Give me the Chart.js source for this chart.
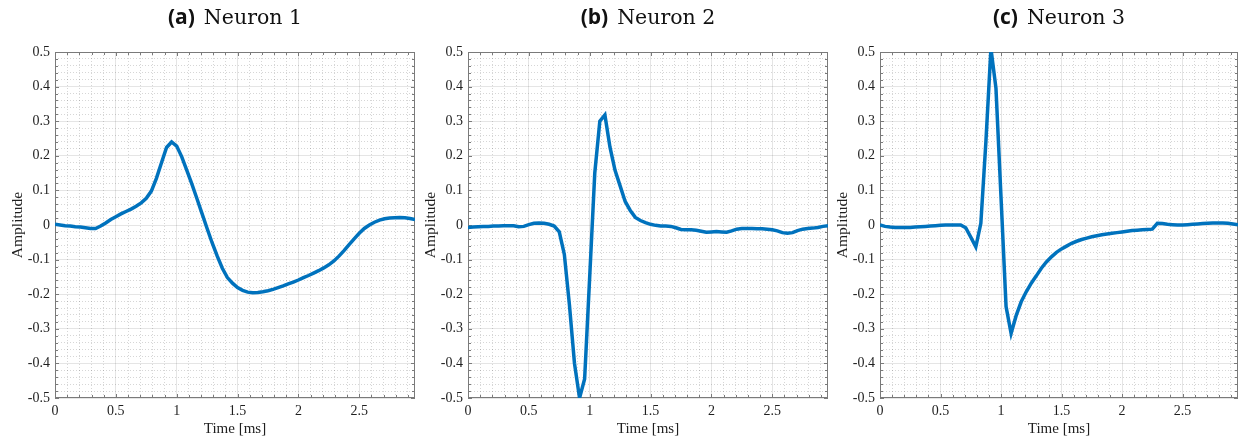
<!DOCTYPE html>
<html>
<head>
<meta charset="utf-8">
<script src="https://cdn.jsdelivr.net/npm/chart.js@4.4.1/dist/chart.umd.min.js"></script>
<style>
  html, body { margin: 0; padding: 0; background: #fff; overflow: hidden; }
  #wrap { position: relative; width: 1238px; height: 439px; }
  canvas { position: absolute; top: 0; }
</style>
</head>
<body>
<div id="wrap">
  <canvas id="c1" width="420" height="439" style="left:0px"></canvas>
  <canvas id="c2" width="420" height="439" style="left:413px"></canvas>
  <canvas id="c3" width="413" height="439" style="left:825px"></canvas>
</div>
<script>
// samples at 24 kHz, time in ms
const timeMs = [0, 0.0417, 0.0833, 0.125, 0.1667, 0.2083, 0.25, 0.2917, 0.3333, 0.375, 0.4167, 0.4583,
  0.5, 0.5417, 0.5833, 0.625, 0.6667, 0.7083, 0.75, 0.7917, 0.8333, 0.875, 0.9167, 0.9583,
  1, 1.0417, 1.0833, 1.125, 1.1667, 1.2083, 1.25, 1.2917, 1.3333, 1.375, 1.4167, 1.4583,
  1.5, 1.5417, 1.5833, 1.625, 1.6667, 1.7083, 1.75, 1.7917, 1.8333, 1.875, 1.9167, 1.9583,
  2, 2.0417, 2.0833, 2.125, 2.1667, 2.2083, 2.25, 2.2917, 2.3333, 2.375, 2.4167, 2.4583,
  2.5, 2.5417, 2.5833, 2.625, 2.6667, 2.7083, 2.75, 2.7917, 2.8333, 2.875, 2.9167, 2.9583];

const neuron1 = [0.002, 0.000, -0.002, -0.003, -0.005, -0.006, -0.008, -0.010, -0.010, -0.003, 0.006, 0.016,
  0.024, 0.032, 0.039, 0.046, 0.054, 0.064, 0.077, 0.098, 0.135, 0.180, 0.224, 0.240,
  0.228, 0.197, 0.158, 0.118, 0.076, 0.033, -0.010, -0.052, -0.090, -0.125, -0.152, -0.168,
  -0.181, -0.189, -0.194, -0.196, -0.195, -0.193, -0.190, -0.186, -0.181, -0.176, -0.170, -0.165,
  -0.159, -0.152, -0.146, -0.139, -0.132, -0.124, -0.115, -0.104, -0.090, -0.074, -0.057, -0.040,
  -0.024, -0.010, 0.000, 0.008, 0.014, 0.018, 0.020, 0.021, 0.022, 0.021, 0.019, 0.016];

const neuron2 = [-0.007, -0.006, -0.005, -0.004, -0.004, -0.003, -0.003, -0.002, -0.002, -0.002, -0.005, -0.004,
  0.001, 0.005, 0.006, 0.005, 0.002, -0.003, -0.020, -0.085, -0.230, -0.400, -0.500, -0.445,
  -0.150, 0.150, 0.300, 0.318, 0.225, 0.158, 0.113, 0.068, 0.042, 0.022, 0.013, 0.007,
  0.002, -0.001, -0.003, -0.003, -0.004, -0.008, -0.013, -0.014, -0.014, -0.015, -0.018, -0.021,
  -0.020, -0.019, -0.020, -0.021, -0.017, -0.012, -0.010, -0.010, -0.010, -0.011, -0.011, -0.012,
  -0.014, -0.017, -0.022, -0.024, -0.022, -0.016, -0.012, -0.010, -0.009, -0.007, -0.004, -0.002];

const neuron3 = [0.000, -0.004, -0.006, -0.007, -0.007, -0.007, -0.007, -0.006, -0.005, -0.004, -0.003, -0.002,
  -0.001, 0.000, 0.000, 0.000, 0.000, -0.008, -0.035, -0.063, 0.005, 0.240, 0.510, 0.395,
  0.080, -0.236, -0.313, -0.262, -0.222, -0.193, -0.168, -0.147, -0.125, -0.107, -0.092, -0.079,
  -0.069, -0.061, -0.053, -0.047, -0.042, -0.038, -0.034, -0.031, -0.028, -0.026, -0.024, -0.022,
  -0.020, -0.018, -0.016, -0.015, -0.014, -0.013, -0.012, 0.005, 0.004, 0.002, 0.001, 0.000,
  0.000, 0.001, 0.002, 0.003, 0.004, 0.005, 0.006, 0.006, 0.006, 0.005, 0.003, 0.001];

const panelLetters = ['(a)', '(b)', '(c)'];
const panelNames = ['Neuron 1', 'Neuron 2', 'Neuron 3'];
const xTickValues = [0, 0.5, 1, 1.5, 2, 2.5];
const xTickLabels = ['0', '0.5', '1', '1.5', '2', '2.5'];
const yTickValues = [-0.5, -0.4, -0.3, -0.2, -0.1, 0, 0.1, 0.2, 0.3, 0.4, 0.5];
const yTickLabels = ['-0.5', '-0.4', '-0.3', '-0.2', '-0.1', '0', '0.1', '0.2', '0.3', '0.4', '0.5'];
const xMax = 2.9583;

// minor grid positions (0.1 ms and 0.02 amplitude)
const xMinor = [];
for (let k = 0; k <= 29; k++) xMinor.push(k / 10);
const yMinor = [];
for (let k = -25; k <= 25; k++) yMinor.push(k / 50);

const near = (v, list) => list.findIndex(m => Math.abs(m - v) < 1e-6);
const textColor = '#1f1f1f';
const frameColor = '#7a7a7a';

const framePlugin = {
    id: 'frame',
    beforeDatasetsDraw(chart) {
        const { ctx, chartArea: a, scales: { x, y } } = chart;
        ctx.save();
        ctx.strokeStyle = frameColor;
        ctx.lineWidth = 1;
        ctx.beginPath();
        xMinor.forEach(v => {
            const px = Math.round(x.getPixelForValue(v)) + 0.5;
            const len = near(v, xTickValues) >= 0 ? 4 : 3;
            ctx.moveTo(px, a.bottom); ctx.lineTo(px, a.bottom - len);
            ctx.moveTo(px, a.top); ctx.lineTo(px, a.top + len);
        });
        yMinor.forEach(v => {
            const py = Math.round(y.getPixelForValue(v)) + 0.5;
            const len = near(v, yTickValues) >= 0 ? 4 : 3;
            ctx.moveTo(a.left, py); ctx.lineTo(a.left + len, py);
            ctx.moveTo(a.right, py); ctx.lineTo(a.right - len, py);
        });
        ctx.stroke();
        ctx.strokeRect(a.left + 0.5, a.top + 0.5, a.width - 1, a.height - 1);
        ctx.restore();
    },
    afterDraw(chart, args, opts) {
        const { ctx, chartArea: a } = chart;
        ctx.save();
        ctx.fillStyle = '#111';
        ctx.textBaseline = 'alphabetic';
        const f1 = 'bold 21px "Open Sans"';
        const f2 = '20.5px "DejaVu Serif"';
        ctx.font = f1;
        const w1 = ctx.measureText(opts.letter).width;
        ctx.font = f2;
        const w2 = ctx.measureText(opts.name).width;
        const gap = 9;
        let sx = (a.left + a.right) / 2 - (w1 + gap + w2) / 2;
        ctx.font = f1;
        ctx.textAlign = 'left';
        ctx.fillText(opts.letter, sx, 24);
        ctx.font = f2;
        ctx.fillText(opts.name, sx + w1 + gap, 24);
        ctx.restore();
    }
};

function makePanel(canvasId, values, idx, rightPad) {
    const points = timeMs.map((t, i) => ({ x: t, y: values[i] }));
    return new Chart(document.getElementById(canvasId), {
        type: 'line',
        data: {
            datasets: [{
                data: points,
                borderColor: '#0072BD',
                borderWidth: 3.5,
                pointRadius: 0,
                tension: 0,
                fill: false,
                clip: 0
            }]
        },
        options: {
            responsive: false,
            animation: false,
            events: [],
            layout: { padding: { top: 52, right: rightPad, left: 0, bottom: 0 } },
            plugins: {
                legend: { display: false },
                tooltip: { enabled: false },
                frame: { letter: panelLetters[idx], name: panelNames[idx] }
            },
            scales: {
                x: {
                    type: 'linear',
                    min: 0,
                    max: xMax,
                    afterBuildTicks: s => { s.ticks = xMinor.map(v => ({ value: v })); },
                    afterFit: s => { s.height = 41; },
                    ticks: {
                        autoSkip: false,
                        maxRotation: 0,
                        padding: 5,
                        color: textColor,
                        font: { family: 'Liberation Serif', size: 14 },
                        callback: v => {
                            const k = near(v, xTickValues);
                            return k >= 0 ? xTickLabels[k] : '';
                        }
                    },
                    grid: {
                        drawTicks: false,
                        lineWidth: 1,
                        color: c => near(c.tick.value, xTickValues) >= 0 ? 'rgba(0,0,0,0.1)' : 'rgba(0,0,0,0.16)'
                    },
                    border: {
                        display: false,
                        dash: c => near(c.tick.value, xTickValues) >= 0 ? [] : [1, 2]
                    },
                    title: {
                        display: true,
                        text: 'Time [ms]',
                        color: textColor,
                        font: { family: 'Liberation Serif', size: 15 },
                        padding: { top: 0, bottom: 1 }
                    }
                },
                y: {
                    type: 'linear',
                    min: -0.5,
                    max: 0.5,
                    afterBuildTicks: s => { s.ticks = yMinor.map(v => ({ value: v })); },
                    afterFit: s => { s.width = 55; },
                    ticks: {
                        autoSkip: false,
                        padding: 5,
                        color: textColor,
                        font: { family: 'Liberation Serif', size: 14 },
                        callback: v => {
                            const k = near(v, yTickValues);
                            return k >= 0 ? yTickLabels[k] : '';
                        }
                    },
                    grid: {
                        drawTicks: false,
                        lineWidth: 1,
                        color: c => near(c.tick.value, yTickValues) >= 0 ? 'rgba(0,0,0,0.1)' : 'rgba(0,0,0,0.16)'
                    },
                    border: {
                        display: false,
                        dash: c => near(c.tick.value, yTickValues) >= 0 ? [] : [1, 2]
                    },
                    title: {
                        display: true,
                        text: 'Amplitude',
                        color: textColor,
                        font: { family: 'Liberation Serif', size: 15.5 },
                        padding: { top: 9, bottom: 0 }
                    }
                }
            }
        },
        plugins: [framePlugin]
    });
}

makePanel('c1', neuron1, 0, 5);
makePanel('c2', neuron2, 1, 5);
makePanel('c3', neuron3, 2, 0);
</script>
</body>
</html>
